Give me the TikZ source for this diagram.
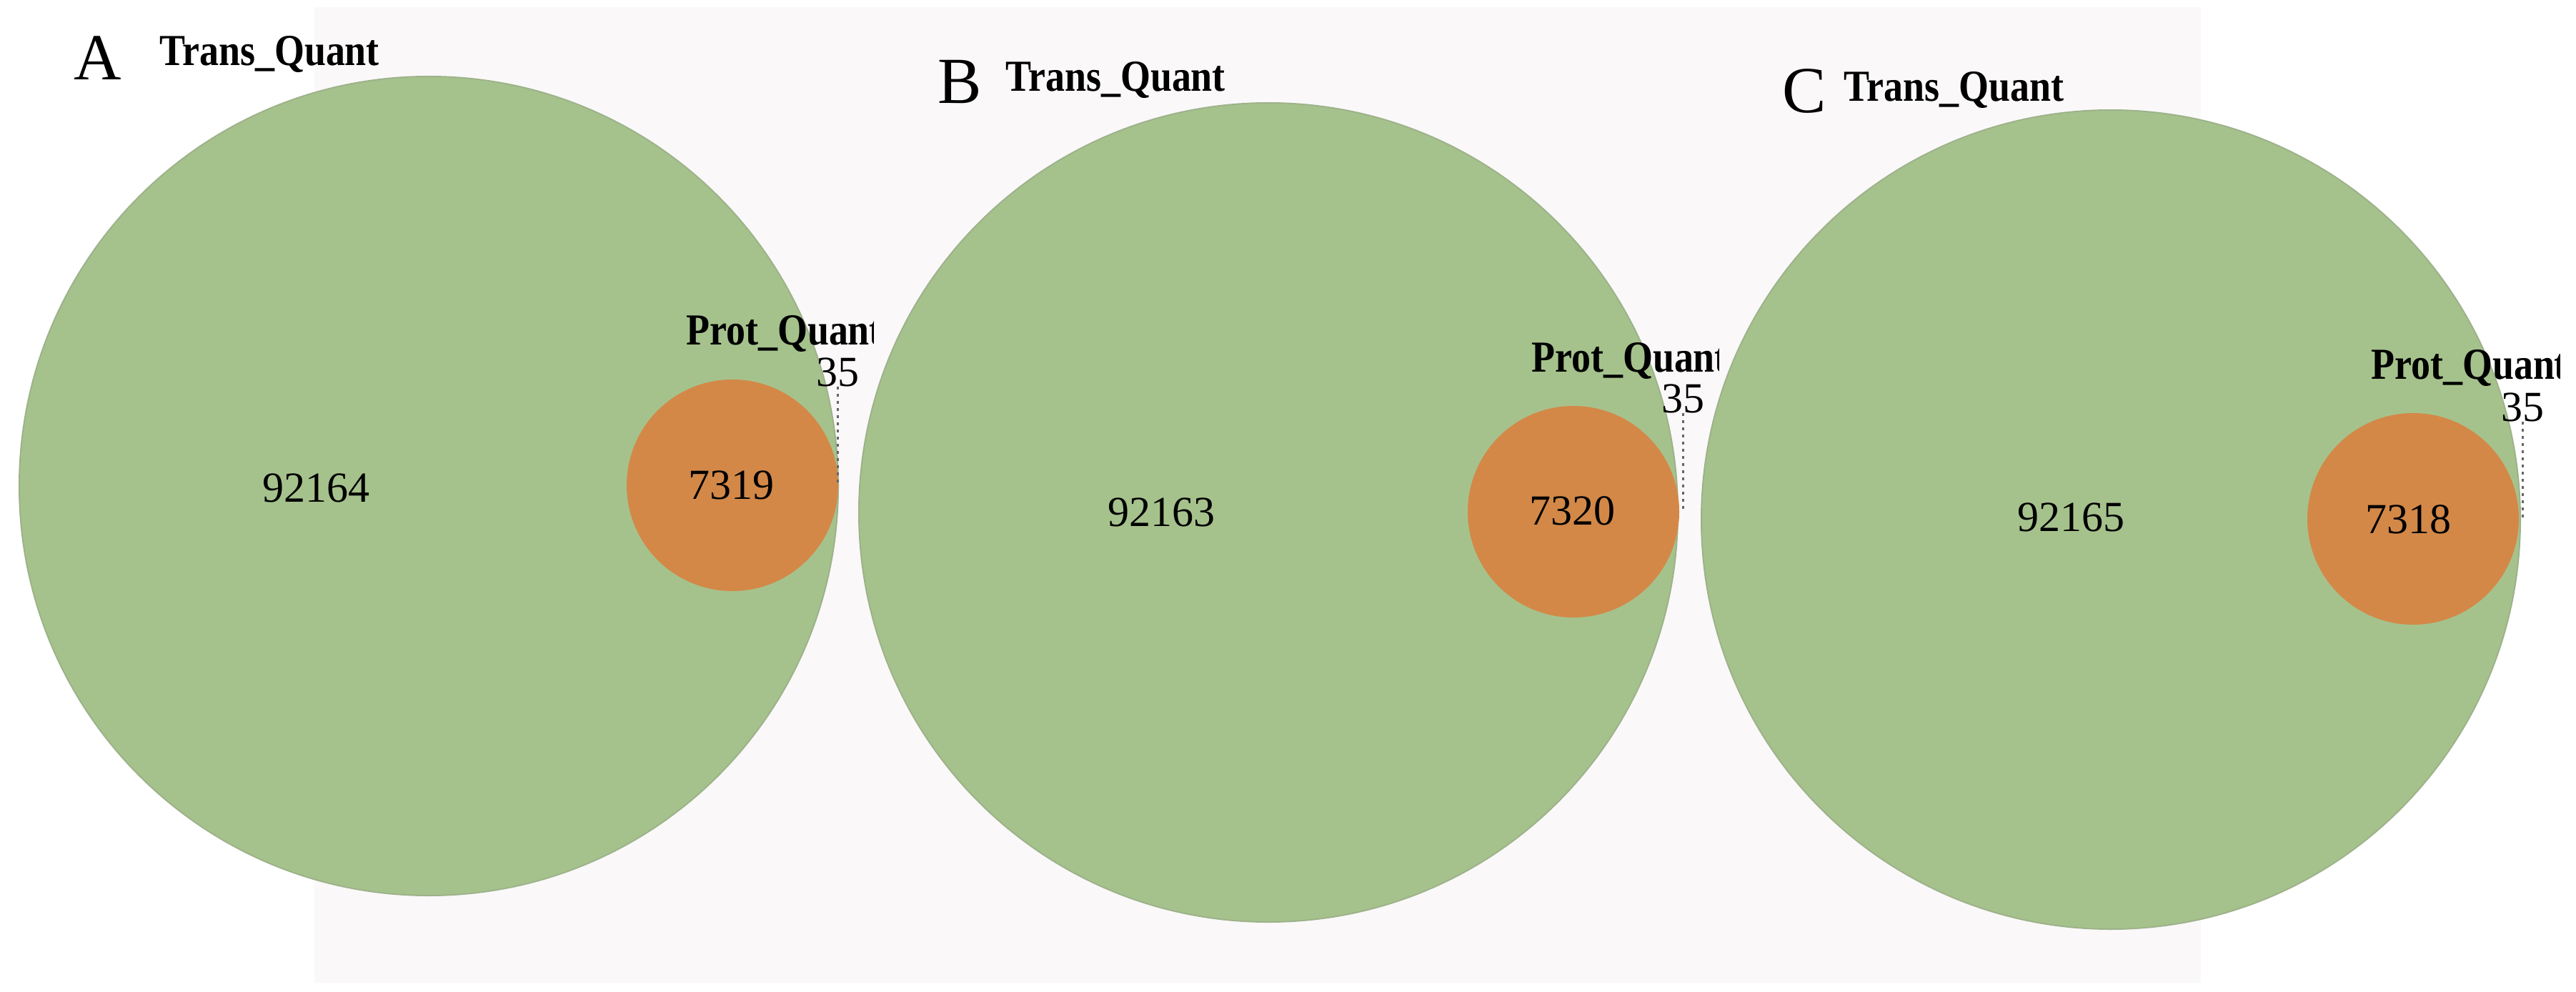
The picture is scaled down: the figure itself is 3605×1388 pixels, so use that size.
\documentclass[tikz,border=0pt]{standalone}
\usepackage{fontspec}
\setmainfont{Liberation Serif}
\definecolor{vgreen}{HTML}{A6C28C}
\definecolor{vedge}{HTML}{9DB28A}
\definecolor{vorange}{HTML}{D38848}
\definecolor{bgpanel}{HTML}{FAF8F9}
\tikzset{
  bigset/.style={circle, fill=vgreen, draw=vedge, line width=2pt, minimum size=1146pt, inner sep=0pt},
  smallset/.style={circle, fill=vorange, minimum size=296pt, inner sep=0pt},
  setname/.style={font=\fontsize{62}{70}\selectfont\bfseries, anchor=base west, inner sep=0pt},
  countlbl/.style={font=\fontsize{60}{66}\selectfont, inner sep=0pt},
  panellbl/.style={font=\fontsize{92}{100}\selectfont, anchor=base west, inner sep=0pt},
  leader/.style={line width=3pt, color=gray!80!black, dash pattern=on 4pt off 6pt}
}
\newcommand{\cond}[1]{\scalebox{0.87}[1]{#1}}
\begin{document}
\begin{tikzpicture}[x=1pt, y=-1pt]
\useasboundingbox[fill=white] (0,0) rectangle (3605,1388);
\fill[bgpanel] (440,10) rectangle (3080,1375);

% Panel A
\node[bigset] (Abig) at (600,680) {};
\node[smallset] (Asmall) at (1025,679) {};
\node[panellbl] (Alet) at (103,112) {A};
\node[setname] (Atrans) at (223,92) {\cond{Trans\_Quant}};
\node[countlbl] (Anum) at (442,683) {92164};
\node[countlbl] (Aint) at (1023,679) {7319};
\node[countlbl] (A35) at (1172,521) {35};
\begin{scope}
\clip (0,0) rectangle (1222,1388);
\node[setname] (Aprot) at (960,482) {\cond{Prot\_Quant}};
\end{scope}
\draw[leader] (A35.south) -- (A35.south |- Asmall.east);

% Panel B
\node[bigset] (Bbig) at (1775,717) {};
\node[smallset] (Bsmall) at (2202,716) {};
\node[panellbl] (Blet) at (1312,145) {B};
\node[setname] (Btrans) at (1407,128) {\cond{Trans\_Quant}};
\node[countlbl] (Bnum) at (1625,717) {92163};
\node[countlbl] (Bint) at (2200,715) {7320};
\node[countlbl] (B35) at (2355,558) {35};
\begin{scope}
\clip (1180,0) rectangle (2405,1388);
\node[setname] (Bprot) at (2143,520) {\cond{Prot\_Quant}};
\end{scope}
\draw[leader] (B35.south) -- (B35.south |- Bsmall.east);

% Panel C
\node[bigset] (Cbig) at (2954,727) {};
\node[smallset] (Csmall) at (3377,726) {};
\node[panellbl] (Clet) at (2494,158) {C};
\node[setname] (Ctrans) at (2580,142) {\cond{Trans\_Quant}};
\node[countlbl] (Cnum) at (2898,724) {92165};
\node[countlbl] (Cint) at (3370,727) {7318};
\node[countlbl] (C35) at (3530,570) {35};
\begin{scope}
\clip (2360,0) rectangle (3582,1388);
\node[setname] (Cprot) at (3318,530) {\cond{Prot\_Quant}};
\end{scope}
\draw[leader] (C35.south) -- (C35.south |- Csmall.east);
\end{tikzpicture}
\end{document}
